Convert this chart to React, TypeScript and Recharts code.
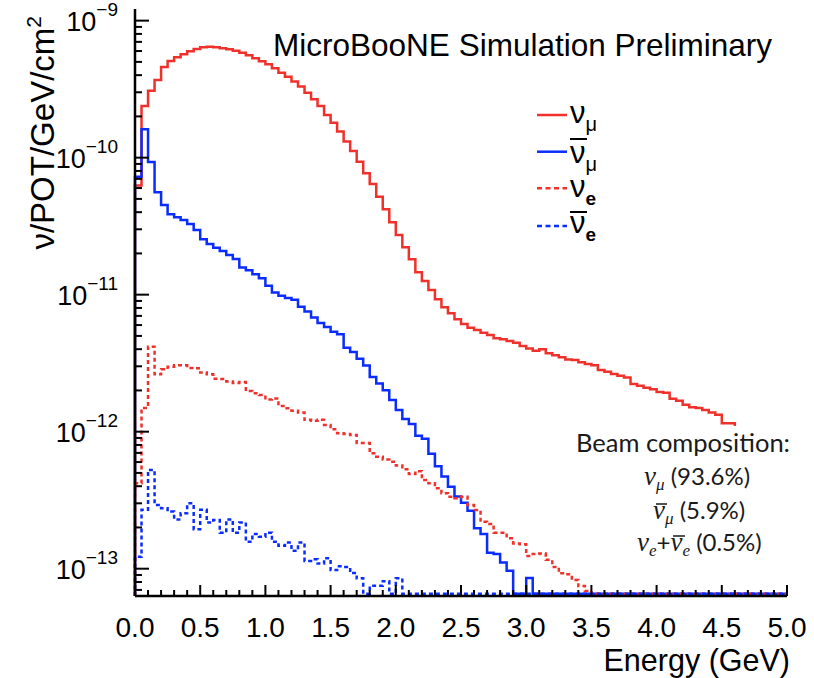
import React from "react";
import { LineChart, Line, XAxis, YAxis } from "recharts";

// 100 bins of 0.05 GeV, flux in nu/POT/GeV/cm^2 (null = empty bin)
const BIN_WIDTH = 0.05;

const NUMU = [
  6.25e-11, 2.38e-10, 3.08e-10, 3.69e-10, 4.59e-10, 5.08e-10, 5.41e-10, 5.69e-10, 5.98e-10, 6.21e-10,
  6.39e-10, 6.46e-10, 6.39e-10, 6.29e-10, 6.18e-10, 6.04e-10, 5.84e-10, 5.58e-10, 5.32e-10, 5.06e-10,
  4.81e-10, 4.5e-10, 4.17e-10, 3.9e-10, 3.59e-10, 3.3e-10, 2.98e-10, 2.67e-10, 2.38e-10, 2.05e-10,
  1.8e-10, 1.55e-10, 1.31e-10, 1.12e-10, 9.35e-11, 7.69e-11, 6.43e-11, 5.19e-11, 4.2e-11, 3.37e-11,
  2.73e-11, 2.22e-11, 1.81e-11, 1.46e-11, 1.26e-11, 1.08e-11, 9.25e-12, 8.09e-12, 7.31e-12, 6.61e-12,
  6.11e-12, 5.74e-12, 5.52e-12, 5.28e-12, 5.08e-12, 4.81e-12, 4.73e-12, 4.59e-12, 4.46e-12, 4.22e-12,
  4.04e-12, 3.9e-12, 4.0e-12, 3.73e-12, 3.61e-12, 3.49e-12, 3.37e-12, 3.33e-12, 3.21e-12, 3.12e-12,
  3.05e-12, 2.82e-12, 2.74e-12, 2.64e-12, 2.56e-12, 2.49e-12, 2.23e-12, 2.16e-12, 2.09e-12, 2.04e-12,
  1.95e-12, 1.92e-12, 1.74e-12, 1.68e-12, 1.57e-12, 1.51e-12, 1.49e-12, 1.44e-12, 1.38e-12, 1.33e-12,
  1.15e-12, 1.15e-12, 1.06e-12, 1.01e-12, 9.6e-13, 9.1e-13, 8.6e-13, 8.2e-13, 7.7e-13, 7.3e-13,
];

const NUMUBAR = [
  7.26e-11, 1.61e-10, 9.31e-11, 5.59e-11, 4.51e-11, 3.86e-11, 3.67e-11, 3.51e-11, 3.28e-11, 2.97e-11,
  2.54e-11, 2.34e-11, 2.2e-11, 2.08e-11, 1.95e-11, 1.82e-11, 1.58e-11, 1.51e-11, 1.41e-11, 1.32e-11,
  1.16e-11, 1.035e-11, 9.8e-12, 9.46e-12, 9.2e-12, 8.17e-12, 7.54e-12, 6.82e-12, 6.21e-12, 5.81e-12,
  5.37e-12, 5.14e-12, 4.1e-12, 3.82e-12, 3.4e-12, 3.04e-12, 2.51e-12, 2.25e-12, 2.01e-12, 1.7e-12,
  1.44e-12, 1.24e-12, 1.14e-12, 9.35e-13, 8.89e-13, 6.91e-13, 5.59e-13, 4.7e-13, 3.97e-13, 3.36e-13,
  3.03e-13, 2.65e-13, 1.97e-13, 1.79e-13, 1.31e-13, 1.28e-13, 1.11e-13, 9.67e-14, null, null,
  8.55e-14, null, null, null, null, null, null, null, null, null,
  null, null, null, null, null, null, null, null, null, null,
  null, null, null, null, null, null, null, null, null, null,
  null, null, null, null, null, null, null, null, null, null,
];

const NUE = [
  4.2e-13, 1.49e-12, 4.17e-12, 2.62e-12, 2.85e-12, 2.98e-12, 3.05e-12, 3.05e-12, 2.92e-12, 2.9e-12,
  2.7e-12, 2.62e-12, 2.43e-12, 2.42e-12, 2.32e-12, 2.27e-12, 2.3e-12, 1.98e-12, 1.91e-12, 1.85e-12,
  1.72e-12, 1.75e-12, 1.54e-12, 1.48e-12, 1.42e-12, 1.38e-12, 1.22e-12, 1.2e-12, 1.22e-12, 1.12e-12,
  1.04e-12, 9.73e-13, 9.62e-13, 9.46e-13, 8.27e-13, 8.27e-13, 6.95e-13, 6.57e-13, 6.27e-13, 6.04e-13,
  5.66e-13, 5.32e-13, 4.91e-13, 5.15e-13, 4.44e-13, 4.2e-13, 3.86e-13, 3.55e-13, 3.35e-13, 3.27e-13,
  3.35e-13, 2.92e-13, 2.68e-13, 2.2e-13, 2.12e-13, 1.83e-13, 1.83e-13, 1.67e-13, 1.53e-13, 1.51e-13,
  1.24e-13, 1.28e-13, 1.29e-13, 1.16e-13, 1.03e-13, 9.25e-14, 9.1e-14, 8.26e-14, 7.47e-14, 6.87e-14,
  null, null, null, null, null, null, null, null, null, null,
  null, null, null, null, null, null, null, null, null, null,
  null, null, null, null, null, null, null, null, null, null,
];

const NUEBAR = [
  1.22e-13, 2.69e-13, 5.26e-13, 2.92e-13, 2.76e-13, 2.61e-13, 2.29e-13, 2.54e-13, 3.0e-13, 1.94e-13,
  2.69e-13, 2.17e-13, 2.27e-13, 1.83e-13, 2.29e-13, 1.83e-13, 2.17e-13, 1.57e-13, 1.79e-13, 1.71e-13,
  1.83e-13, 1.57e-13, 1.47e-13, 1.55e-13, 1.35e-13, 1.55e-13, 1.14e-13, 1.17e-13, 1.09e-13, 1.19e-13,
  9.77e-14, 1.04e-13, 1.03e-13, 9.3e-14, 8.5e-14, null, 7.5e-14, 7.5e-14, 8.1e-14, null,
  8.5e-14, null, null, null, null, null, null, null, null, null,
  null, null, null, null, null, null, null, null, null, null,
  null, null, null, null, null, null, null, null, null, null,
  null, null, null, null, null, null, null, null, null, null,
  null, null, null, null, null, null, null, null, null, null,
  null, null, null, null, null, null, null, null, null, null,
];

const X_MAJOR = [0, 0.5, 1, 1.5, 2, 2.5, 3, 3.5, 4, 4.5, 5];
const X_MINOR = [0.1, 0.2, 0.3, 0.4, 0.6, 0.7, 0.8, 0.9, 1.1, 1.2, 1.3, 1.4, 1.6, 1.7, 1.8, 1.9, 2.1, 2.2, 2.3, 2.4,
  2.6, 2.7, 2.8, 2.9, 3.1, 3.2, 3.3, 3.4, 3.6, 3.7, 3.8, 3.9, 4.1, 4.2, 4.3, 4.4, 4.6, 4.7, 4.8, 4.9];
const Y_EXPONENTS = [-14, -13, -12, -11, -10, -9];
const Y_MIN = 6.32e-14;
const Y_MAX = 1.216e-9;
const EMPTY_LEVEL = 6.55e-14; // where ROOT draws empty bins, just above the frame

const RED = "#f0302a";
const BLUE = "#0a2cff";
const SANS = "'Liberation Sans', Arial, Helvetica, sans-serif";
const SERIF = "'Liberation Serif', 'Times New Roman', serif";
const LATO = "Lato, sans-serif";

const Y_TICKS: number[] = [];
Y_EXPONENTS.forEach(e => {
  for (let k = 1; k <= 9; k++) {
    const v = k * Math.pow(10, e);
    if (v >= Y_MIN && v <= Y_MAX) Y_TICKS.push(v);
  }
});
const X_TICKS = [...X_MAJOR, ...X_MINOR].sort((a, b) => a - b);

// step-histogram table: rise from floor at x=0, one row per lower bin edge, close at 5.0
const rows: Record<string, number>[] = [];
const val = (v: number | null) => (v == null ? EMPTY_LEVEL : v);
rows.push({ e: 0, numu: Y_MIN, numubar: Y_MIN, nue: Y_MIN, nuebar: Y_MIN });
for (let i = 0; i < NUMU.length; i++) {
  rows.push({
    e: +(i * BIN_WIDTH).toFixed(2),
    numu: val(NUMU[i]),
    numubar: val(NUMUBAR[i]),
    nue: val(NUE[i]),
    nuebar: val(NUEBAR[i]),
  });
}
const last = NUMU.length - 1;
rows.push({ e: 5, numu: val(NUMU[last]), numubar: val(NUMUBAR[last]), nue: val(NUE[last]), nuebar: val(NUEBAR[last]) });

const isMajorY = (v: number) => {
  const m = v / Math.pow(10, Math.floor(Math.log10(v) + 1e-9));
  return Math.abs(m - 1) < 1e-6;
};

const YTick = (props: any) => {
  const { x, y, payload, side } = props;
  const v = payload.value as number;
  const major = isMajorY(v);
  const len = major ? 14 : 7;
  const dir = side === "left" ? 1 : -1;
  const exp = Math.round(Math.log10(v));
  return (
    <g>
      <line x1={x} x2={x + dir * len} y1={y} y2={y} stroke="#000" strokeWidth={2} />
      {major && side === "left" && (
        <text x={x - 17} y={y} textAnchor="end" fontFamily={SANS} fill="#000">
          <tspan fontSize={27} dy={10}>10</tspan>
          <tspan fontSize={19} dy={-15}>{"\u2212" + Math.abs(exp)}</tspan>
        </text>
      )}
    </g>
  );
};

const XTick = (props: any) => {
  const { x, y, payload, side } = props;
  const v = payload.value as number;
  const major = X_MAJOR.some(m => Math.abs(m - v) < 1e-6);
  const len = major ? 11 : 6;
  const dir = side === "bottom" ? -1 : 1;
  return (
    <g>
      <line x1={x} x2={x} y1={y} y2={y + dir * len} stroke="#000" strokeWidth={2} />
      {major && side === "bottom" && (
        <text x={x} y={y + 41} textAnchor="middle" fontFamily={SANS} fontSize={28} fill="#000">
          {v.toFixed(1)}
        </text>
      )}
    </g>
  );
};

const frame = { stroke: "#000", strokeWidth: 2.5 };

export default function App() {
  return (
    <div style={{ position: "absolute", left: 0, top: 0, width: 814, height: 678, background: "#fff" }}>
      <LineChart width={814} height={678} data={rows} margin={{ top: 9, right: 27, bottom: 0, left: 0 }}>
        <XAxis dataKey="e" type="number" domain={[0, 5]} ticks={X_TICKS} interval={0} height={82}
          tickSize={0} tickMargin={0} tickLine={false} axisLine={frame}
          tick={(p: any) => <XTick {...p} side="bottom" />} />
        <XAxis xAxisId="top" orientation="top" dataKey="e" type="number" domain={[0, 5]} ticks={X_TICKS} interval={0} height={0}
          tickSize={0} tickMargin={0} tickLine={false} axisLine={frame}
          tick={(p: any) => <XTick {...p} side="top" />} />
        <YAxis type="number" scale="log" domain={[Y_MIN, Y_MAX]} allowDataOverflow ticks={Y_TICKS} interval={0} width={135}
          tickSize={0} tickMargin={0} tickLine={false} axisLine={frame}
          tick={(p: any) => <YTick {...p} side="left" />} />
        <YAxis yAxisId="r" orientation="right" type="number" scale="log" domain={[Y_MIN, Y_MAX]} allowDataOverflow ticks={Y_TICKS} interval={0} width={0}
          tickSize={0} tickMargin={0} tickLine={false} axisLine={frame}
          tick={(p: any) => <YTick {...p} side="right" />} />
        <Line type="stepAfter" dataKey="numu" stroke={RED} strokeWidth={2.5} dot={false} isAnimationActive={false} />
        <Line type="stepAfter" dataKey="numubar" stroke={BLUE} strokeWidth={2.5} dot={false} isAnimationActive={false} />
        <Line type="stepAfter" dataKey="nue" stroke={RED} strokeWidth={2.5} strokeDasharray="4 3" dot={false} isAnimationActive={false} />
        <Line type="stepAfter" dataKey="nuebar" stroke={BLUE} strokeWidth={2.5} strokeDasharray="4 3" dot={false} isAnimationActive={false} />
      </LineChart>

      <svg width={814} height={678} style={{ position: "absolute", left: 0, top: 0, pointerEvents: "none" }}>
        <text transform="translate(54,16) rotate(-90)" textAnchor="end" fontFamily={SANS} fontSize={33} fill="#000">
          ν/POT/GeV/cm<tspan fontSize={21} dy={-13}>2</tspan>
        </text>
        <text x={772} y={56} textAnchor="end" fontFamily={SANS} fontSize={31.5} fill="#000">MicroBooNE Simulation Preliminary</text>
        <text x={790} y={671} textAnchor="end" fontFamily={SANS} fontSize={30.5} fill="#000">Energy (GeV)</text>

        {/* legend */}
        <line x1={537} x2={567} y1={115} y2={115} stroke={RED} strokeWidth={2.5} />
        <line x1={537} x2={567} y1={151.7} y2={151.7} stroke={BLUE} strokeWidth={2.5} />
        <line x1={537} x2={567} y1={188.3} y2={188.3} stroke={RED} strokeWidth={2.5} strokeDasharray="5 3.5" />
        <line x1={537} x2={567} y1={226} y2={226} stroke={BLUE} strokeWidth={2.5} strokeDasharray="5 3.5" />
        <text x={570} y={123} fontFamily={SANS} fontSize={31} fill="#000">ν<tspan fontSize={20} dy={8}>μ</tspan></text>
        <text x={570} y={163} fontFamily={SANS} fontSize={31} fill="#000">ν<tspan fontSize={20} dy={8}>μ</tspan></text>
        <line x1={570} x2={587} y1={139} y2={139} stroke="#000" strokeWidth={2} />
        <text x={570} y={197} fontFamily={SANS} fontSize={31} fill="#000">ν<tspan fontSize={19} fontWeight="bold" dy={8}>e</tspan></text>
        <text x={570} y={233} fontFamily={SANS} fontSize={31} fill="#000">ν<tspan fontSize={19} fontWeight="bold" dy={8}>e</tspan></text>
        <line x1={570} x2={587} y1={212} y2={212} stroke="#000" strokeWidth={2} />

        {/* beam composition box */}
        <rect x={562} y={426} width={252} height={140} fill="#fff" />
        <text x={790} y={452} textAnchor="end" fontFamily={LATO} fontSize={25.5} fill="#1a1a1a">Beam composition:</text>
        <text x={644} y={485} fontFamily={LATO} fontSize={24} fill="#1a1a1a">
          <tspan fontFamily={SERIF} fontStyle="italic" fontSize={27}>ν</tspan>
          <tspan fontFamily={SERIF} fontStyle="italic" fontSize={17} dy={5}>μ</tspan>
          <tspan dy={-5}> (93.6%)</tspan>
        </text>
        <text x={653} y={519} fontFamily={LATO} fontSize={24} fill="#1a1a1a">
          <tspan fontFamily={SERIF} fontStyle="italic" fontSize={27}>ν</tspan>
          <tspan fontFamily={SERIF} fontStyle="italic" fontSize={17} dy={5}>μ</tspan>
          <tspan dy={-5}> (5.9%)</tspan>
        </text>
        <line x1={656} x2={667} y1={504} y2={504} stroke="#1a1a1a" strokeWidth={1.5} />
        <text x={637} y={551} fontFamily={LATO} fontSize={24} fill="#1a1a1a">
          <tspan fontFamily={SERIF} fontStyle="italic" fontSize={27}>ν</tspan>
          <tspan fontFamily={SERIF} fontStyle="italic" fontSize={17} dy={5}>e</tspan>
          <tspan dy={-5}>+</tspan>
          <tspan fontFamily={SERIF} fontStyle="italic" fontSize={27}>ν</tspan>
          <tspan fontFamily={SERIF} fontStyle="italic" fontSize={17} dy={5}>e</tspan>
          <tspan dy={-5}> (0.5%)</tspan>
        </text>
        <line x1={673} x2={685} y1={536} y2={536} stroke="#1a1a1a" strokeWidth={1.5} />
      </svg>
    </div>
  );
}
